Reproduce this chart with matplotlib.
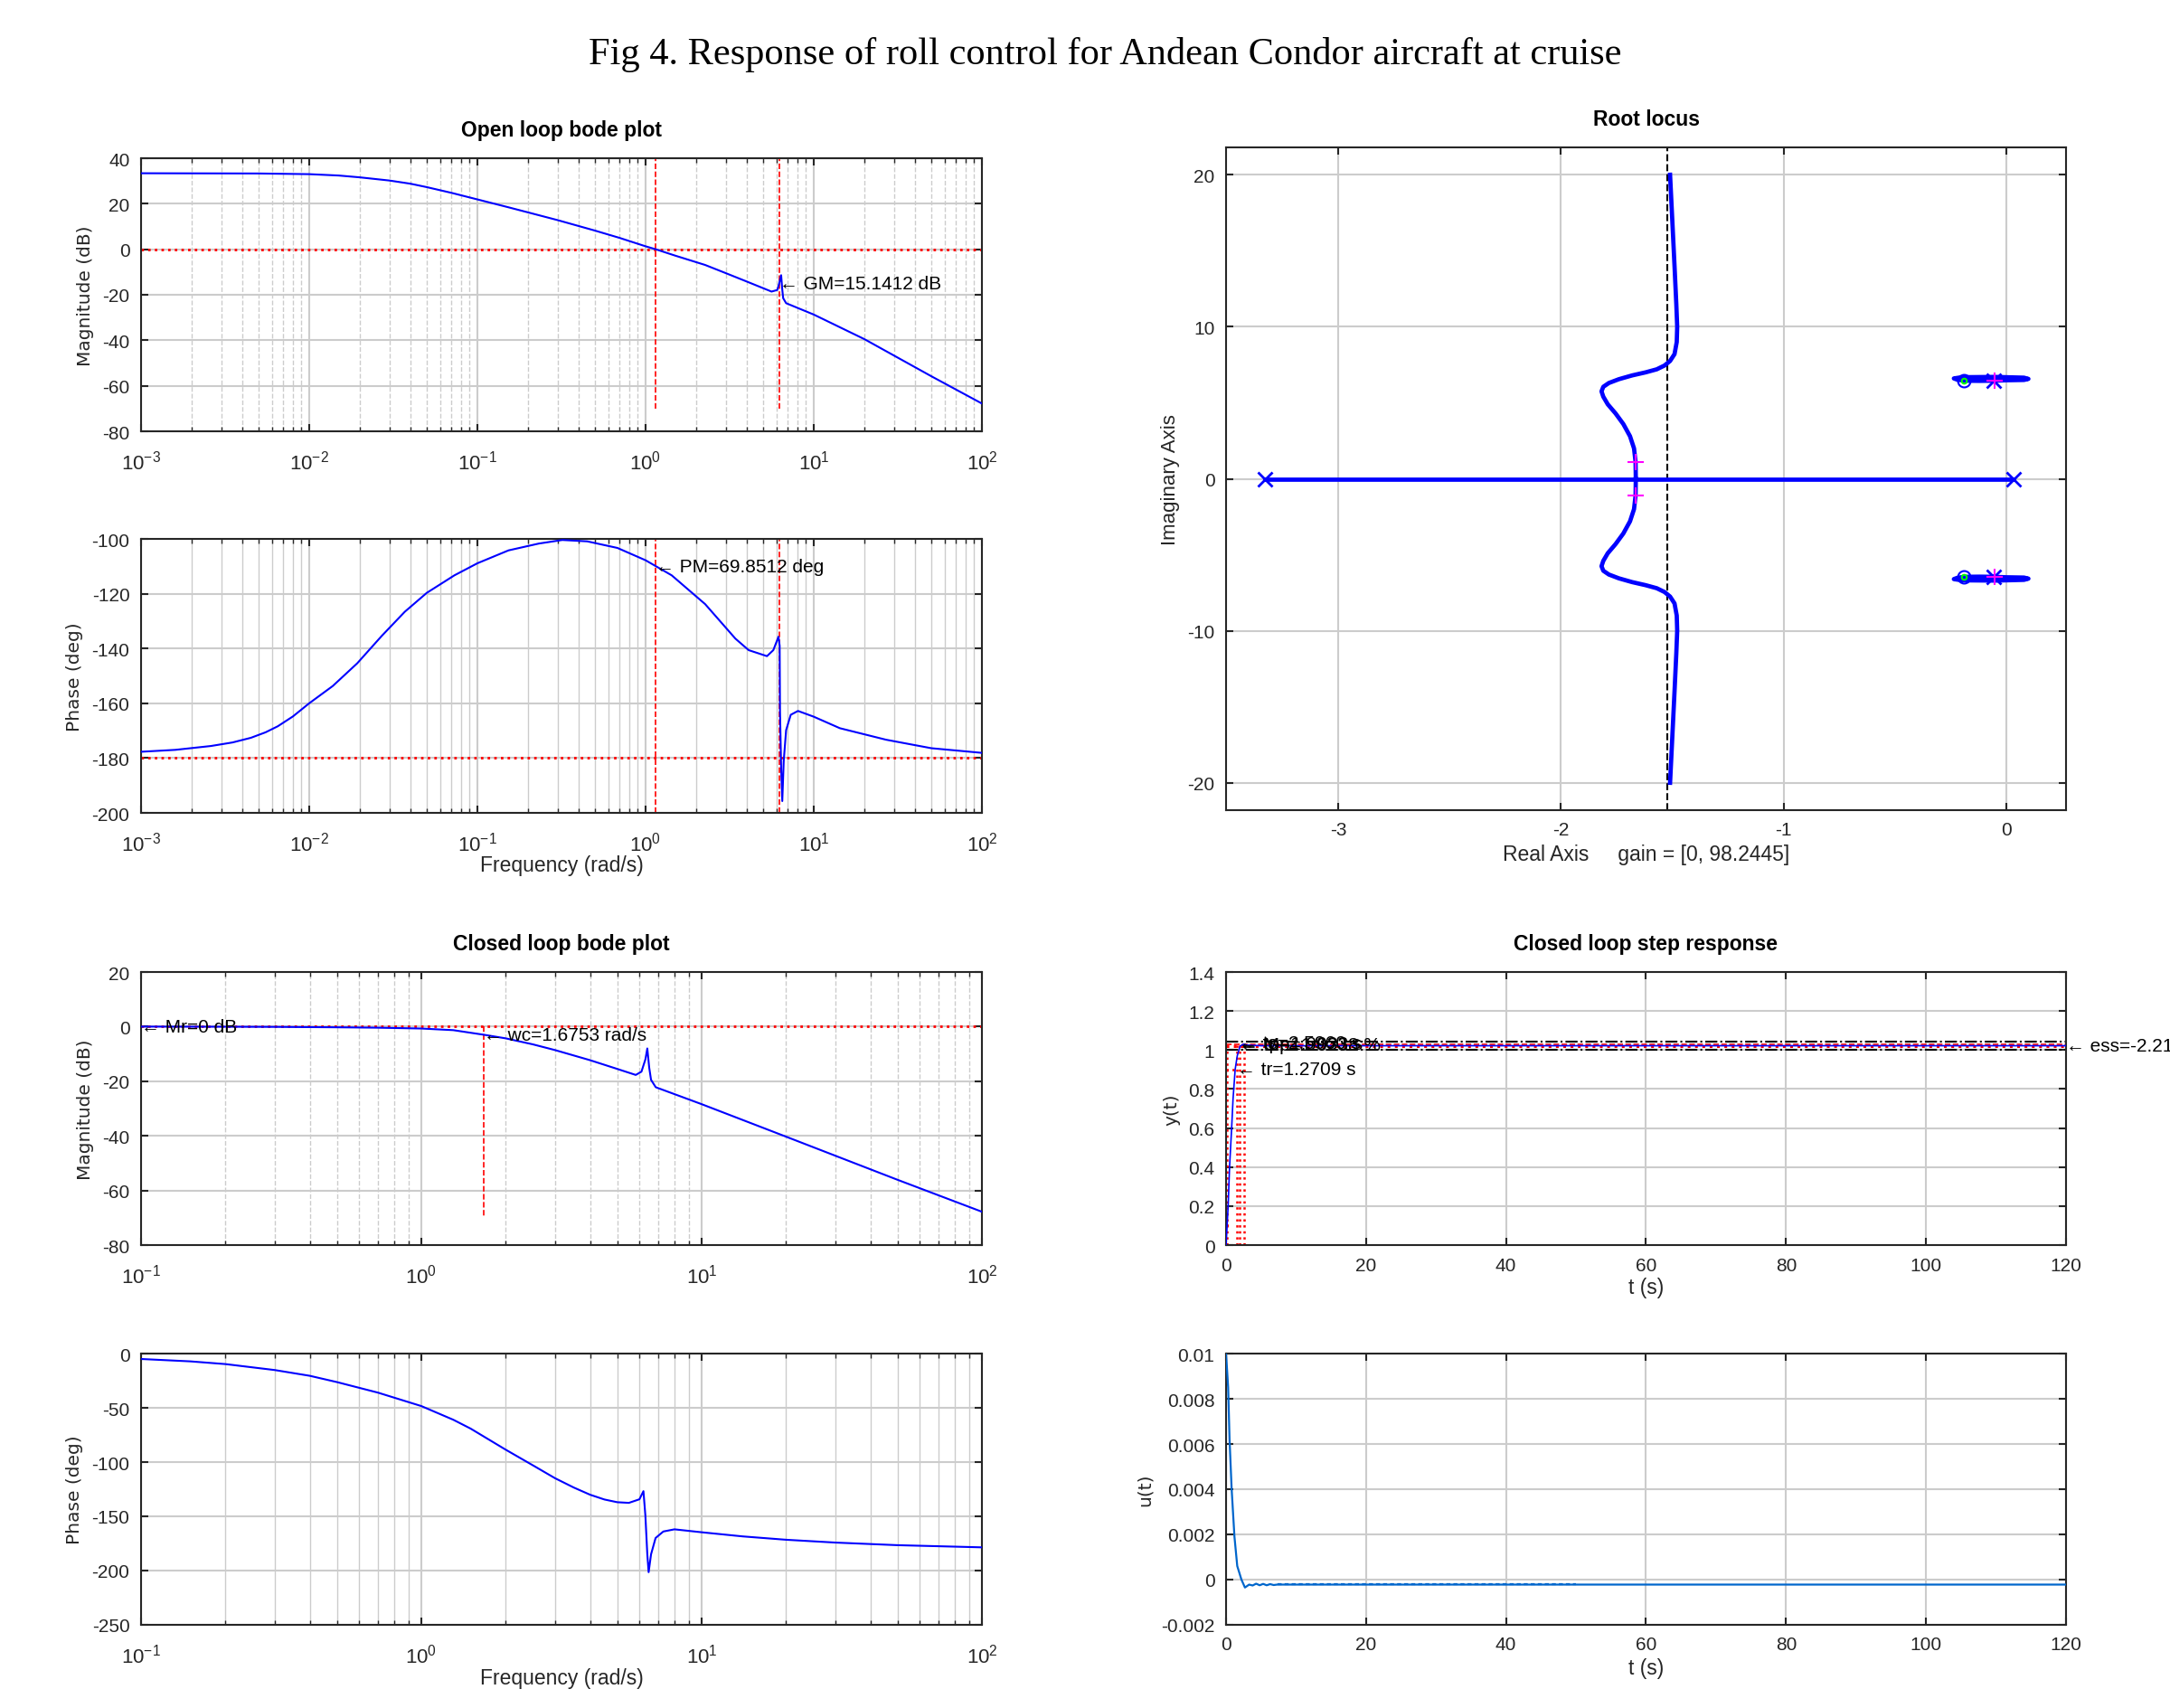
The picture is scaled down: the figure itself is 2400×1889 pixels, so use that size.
import numpy as np
import matplotlib
matplotlib.use("Agg")
import matplotlib.pyplot as plt
from matplotlib.ticker import FormatStrFormatter

plt.rcParams['font.family'] = ['Liberation Sans', 'DejaVu Sans']
plt.rcParams['axes.unicode_minus'] = False
plt.rcParams['mathtext.default'] = 'regular'

# ---- data ----
# open loop bode
w_ol_mag = [1e-3, 5e-3, 1e-2, 1.5e-2, 2e-2, 3e-2, 4e-2, 5e-2, 7e-2, 0.1, 0.15, 0.2, 0.3, 0.5, 0.7, 1.0, 1.148,
            1.5, 2.26, 3, 4, 5, 5.61, 6.07, 6.22, 6.4, 6.49, 6.58, 6.85, 10, 20, 50, 100]
ol_mag = [33.4, 33.3, 33.0, 32.4, 31.6, 30.2, 28.8, 27.3, 24.8, 21.9, 18.6, 16.2, 12.8, 8.2, 5.0, 1.3, 0.0,
          -2.8, -6.9, -10.5, -14.2, -17.1, -18.6, -17.9, -15.2, -11.4, -17.3, -21.5, -23.7, -28.7, -39.5, -55.8, -67.8]
w_ol_ph = [1e-3, 1.6e-3, 2.6e-3, 3.5e-3, 4.5e-3, 5.5e-3, 6.5e-3, 8e-3, 1e-2, 1.38e-2, 1.93e-2, 2.7e-2, 3.7e-2,
           5e-2, 7.3e-2, 0.1, 0.153, 0.232, 0.32, 0.45, 0.68, 1.0, 1.43, 2.0, 2.26, 3.42, 4.1, 5.27, 5.75, 6.17,
           6.27, 6.3, 6.4, 6.5, 6.63, 6.85, 7.3, 8.06, 10, 14.3, 26.9, 50, 100]
ol_ph = [-177.7, -177.0, -175.6, -174.3, -172.6, -170.6, -168.4, -164.8, -160.0, -153.7, -145.4, -135.4, -126.6,
         -119.7, -113.3, -108.9, -104.2, -101.7, -100.4, -100.9, -103.3, -107.8, -113.3, -121.0, -123.8, -136.4,
         -140.6, -142.8, -140.6, -135.7, -139.0, -162.9, -183.8, -195.7, -181.0, -169.8, -164.2, -162.8, -164.9,
         -169.1, -173.3, -176.4, -178.1]
wc_ol, wg_ol = 1.148, 6.22
gm_db, pm_deg = 15.1412, 69.8512

# closed loop bode
w_cl_mag = [0.1, 0.2, 0.3, 0.5, 0.7, 1.0, 1.3, 1.6753, 2, 2.5, 3, 4, 5, 5.82, 6.1, 6.3, 6.4, 6.5, 6.6, 6.86,
            10, 20, 50, 100]
cl_mag = [0, -0.05, -0.1, -0.25, -0.4, -0.7, -1.3, -3.0, -4.3, -6.5, -8.6, -12.3, -15.5, -17.7, -16.5, -12.0,
          -8.0, -15.0, -19.5, -22.2, -28.4, -40.3, -56.1, -67.8]
w_cl_ph = [0.1, 0.15, 0.2, 0.3, 0.4, 0.5, 0.7, 1.0, 1.3, 1.5, 2, 2.5, 3, 3.5, 4, 4.5, 5, 5.5, 6, 6.2, 6.3,
           6.4, 6.47, 6.6, 6.85, 7.3, 8, 10, 14, 20, 30, 50, 100]
cl_ph = [-5, -7.2, -9.7, -15.2, -20.5, -26.3, -36, -48.4, -61, -69.2, -88.6, -103, -114.9, -123.5, -130.1,
         -134.5, -137, -137.6, -134.3, -126.8, -149.5, -185, -201.5, -185, -170, -164, -162, -164.7, -168.5,
         -171.6, -174.2, -176.6, -178.6]
wc_cl = 1.6753

# root locus (upper half, mirrored for lower)
rl_re = [-1.664, -1.665, -1.672, -1.69, -1.72, -1.755, -1.79, -1.81, -1.818, -1.81, -1.785, -1.74, -1.68,
         -1.62, -1.57, -1.535, -1.51, -1.49, -1.48, -1.478, -1.482, -1.49, -1.50, -1.51]
rl_im = [0.0, 1.1, 2.0, 2.8, 3.6, 4.3, 4.9, 5.4, 5.75, 6.05, 6.3, 6.55, 6.8, 7.0, 7.2, 7.45, 7.75, 8.2, 9.0,
         10.0, 11.5, 14.0, 17.0, 20.0]
loop_re = [-0.054, 0.0, 0.08, 0.1, 0.08, -0.05, -0.2, -0.235, -0.22, -0.19, -0.12, -0.054]
loop_im = [6.45, 6.48, 6.5, 6.57, 6.65, 6.7, 6.68, 6.6, 6.52, 6.45, 6.44, 6.45]
real_branch = [-3.331, 0.033]
poles_re = [-3.331, 0.033, -0.054, -0.054]
poles_im = [0, 0, 6.45, -6.45]
zeros_re = [-0.19, -0.19]
zeros_im = [6.45, -6.45]
cl_poles_re = [-1.665, -1.665, -0.05, -0.05]
cl_poles_im = [1.1, -1.1, 6.48, -6.48]
asymptote = -1.521

# step response
t_step = [0, 0.3, 0.5, 0.8, 1.0, 1.3, 1.6, 2.0, 2.5, 3.0, 5.0, 120]
y_step = [0, 0.2, 0.4, 0.6, 0.75, 0.9, 0.97, 1.02, 1.03, 1.025, 1.022, 1.022]
y_ss, y_peak = 1.022, 1.03
ts_band = [1.0016, 1.0425]
t_marks = [0.17, 1.6, 1.94, 2.6]

# control signal
t_u = [0, 0.3, 0.5, 0.8, 1.2, 1.6, 2.2, 2.7, 3.3, 3.8, 4.3, 4.8, 5.3, 5.8, 6.3, 6.8, 7.3, 120]
u_sig = [0.01, 0.0085, 0.0062, 0.004, 0.0019, 0.0006, 0.0, -0.00035, -0.00022, -0.00026, -0.00018, -0.00025,
         -0.00019, -0.00025, -0.0002, -0.00024, -0.00022, -0.00022]
t_ripple = [7.3, 50]
u_ripple = [-0.00019, -0.00019]

W, H = 2400, 1890
fig = plt.figure(figsize=(W / 100, H / 100), dpi=100)

def rect(l, t, r, b):
    return [l / W, 1 - b / H, (r - l) / W, (b - t) / H]

TICK = 15
LAB = 16.5
BLUE = '#0000ff'
RED = '#ff0000'
GRID = '#cccccc'

def style(ax, minor_dashed=None, logx=False):
    for s in ax.spines.values():
        s.set_color('#262626')
        s.set_linewidth(1.5)
    ax.tick_params(which='both', direction='in', top=True, right=True,
                   colors='#262626', labelsize=TICK, pad=9)
    ax.tick_params(which='major', length=6, width=1.5)
    ax.tick_params(which='minor', length=3.5, width=1.0)
    if logx:
        ax.tick_params(axis='x', which='both', pad=15)
        for lbl in ax.get_xticklabels():
            lbl.set_fontsize(16)
    ax.set_axisbelow(True)
    ax.grid(True, which='major', color=GRID, lw=1.5, ls='-')
    if minor_dashed is not None:
        ax.grid(True, which='minor', axis='x', color=GRID, lw=1.0,
                ls='--' if minor_dashed else '-')

def ylab(ax, text, x, family='DejaVu Sans', size=14.5):
    ax.set_ylabel(text, family=family, fontsize=size, color='#262626', va='center')
    ax.yaxis.set_label_coords(x, 0.5)

def xlab(ax, text, gap_px, height_px):
    ax.set_xlabel(text, fontsize=LAB, color='#262626', va='center')
    ax.xaxis.set_label_coords(0.5, -gap_px / height_px)

def ann(ax, x, y, s, **kw):
    ax.text(x, y, '\u2190 ' + s, fontsize=TICK, va='center', ha='left',
            family=['DejaVu Sans'] if False else ['Liberation Sans', 'DejaVu Sans'], **kw)

fig.text(1222 / W, 1 - 60 / H,
         'Fig 4. Response of roll control for Andean Condor aircraft at cruise',
         family='Liberation Serif', fontsize=30.5, ha='center', va='center')

# open loop magnitude
ax1 = fig.add_axes(rect(156, 176, 1086, 478))
ax1.semilogx(w_ol_mag, ol_mag, color=BLUE, lw=1.5, zorder=3)
ax1.axhline(0, color=RED, ls=':', lw=2)
ax1.plot([wc_ol, wc_ol], [-70, 40], color=RED, ls='--', lw=1.2)
ax1.plot([wg_ol, wg_ol], [-70, 40], color=RED, ls='--', lw=1.2)
ann(ax1, wg_ol, -gm_db, 'GM=%.4f dB' % gm_db, clip_on=False)
ax1.set_xlim(1e-3, 1e2)
ax1.set_ylim(-80, 40)
ax1.set_yticks(np.arange(-80, 41, 20))
style(ax1, minor_dashed=True, logx=True)
ax1.set_title('Open loop bode plot', fontsize=LAB, fontweight='bold', pad=18)
ylab(ax1, 'Magnitude (dB)', -0.0656)

# open loop phase
ax2 = fig.add_axes(rect(156, 597, 1086, 900))
ax2.semilogx(w_ol_ph, ol_ph, color=BLUE, lw=1.5, zorder=3)
ax2.axhline(-180, color=RED, ls=':', lw=2)
ax2.axvline(wc_ol, color=RED, ls='--', lw=1.2)
ax2.axvline(wg_ol, color=RED, ls='--', lw=1.2)
ann(ax2, wc_ol, -180 + pm_deg, 'PM=%.4f deg' % pm_deg)
ax2.set_xlim(1e-3, 1e2)
ax2.set_ylim(-200, -100)
ax2.set_yticks(np.arange(-200, -99, 20))
style(ax2, minor_dashed=False, logx=True)
ylab(ax2, 'Phase (deg)', -0.0785)
xlab(ax2, 'Frequency (rad/s)', 58, 303)

# closed loop magnitude
ax3 = fig.add_axes(rect(156, 1076, 1086, 1378))
ax3.semilogx(w_cl_mag, cl_mag, color=BLUE, lw=1.5, zorder=3)
ax3.axhline(0, color=RED, ls=':', lw=2)
ax3.plot([0.1, 0.1], [0, -70], color=RED, ls='--', lw=1.2)
ax3.plot([wc_cl, wc_cl], [0, -70], color=RED, ls='--', lw=1.2)
ann(ax3, 0.1, 0, 'Mr=0 dB')
ann(ax3, wc_cl, -3, 'wc=%.4f rad/s' % wc_cl)
ax3.set_xlim(1e-1, 1e2)
ax3.set_ylim(-80, 20)
ax3.set_yticks(np.arange(-80, 21, 20))
style(ax3, minor_dashed=True, logx=True)
ax3.set_title('Closed loop bode plot', fontsize=LAB, fontweight='bold', pad=18)
ylab(ax3, 'Magnitude (dB)', -0.0656)

# closed loop phase
ax4 = fig.add_axes(rect(156, 1498, 1086, 1798))
ax4.semilogx(w_cl_ph, cl_ph, color=BLUE, lw=1.5, zorder=3)
ax4.set_xlim(1e-1, 1e2)
ax4.set_ylim(-250, 0)
ax4.set_yticks(np.arange(-250, 1, 50))
style(ax4, minor_dashed=False, logx=True)
ylab(ax4, 'Phase (deg)', -0.0785)
xlab(ax4, 'Frequency (rad/s)', 59, 300)

# root locus
ax5 = fig.add_axes(rect(1356, 164, 2285, 897))
ax5.axvline(asymptote, color='k', ls='--', lw=1.5, zorder=2)
ax5.plot(real_branch, [0, 0], color=BLUE, lw=3.4, zorder=3)
ax5.plot(rl_re, rl_im, color=BLUE, lw=3.4, zorder=3, solid_joinstyle='round')
ax5.plot(rl_re, np.negative(rl_im), color=BLUE, lw=3.4, zorder=3, solid_joinstyle='round')
ax5.plot(loop_re, loop_im, color=BLUE, lw=3.4, zorder=3)
ax5.plot(loop_re, np.negative(loop_im), color=BLUE, lw=3.4, zorder=3)
ax5.plot(poles_re, poles_im, 'x', color=BLUE, ms=11, mew=2, zorder=4)
ax5.plot(zeros_re, zeros_im, 'o', mfc='none', mec=BLUE, ms=10, mew=1.5, zorder=4)
ax5.plot(zeros_re, zeros_im, 'o', mfc='none', mec='#00ff00', ms=4, mew=1.5, zorder=5)
ax5.plot(cl_poles_re, cl_poles_im, '+', color='#ff00ff', ms=13, mew=1.5, zorder=5)
ax5.set_xlim(-3.505, 0.269)
ax5.set_ylim(-21.8, 21.8)
ax5.set_xticks([-3, -2, -1, 0])
ax5.set_yticks([-20, -10, 0, 10, 20])
style(ax5)
ax5.set_title('Root locus', fontsize=LAB, fontweight='bold', pad=18)
ylab(ax5, 'Imaginary Axis', -0.0657, family='Liberation Sans', size=16)
ax5.set_xlabel('Real Axis     gain = [0, 98.2445]', fontsize=LAB, color='#262626', va='center')
ax5.xaxis.set_label_coords(0.5, -49 / 733)

# step response
ax6 = fig.add_axes(rect(1356, 1076, 2285, 1378))
for lvl in ts_band:
    ax6.axhline(lvl, color='k', ls='-.', lw=1.5, zorder=2)
ax6.axhline(y_ss, color=RED, ls=':', lw=2.2, zorder=2)
ax6.axhline(y_peak, color=RED, ls='--', lw=1.2, zorder=2)
for tm in t_marks:
    ax6.plot([tm, tm], [0, y_peak], color=RED, ls=':', lw=1.8, zorder=2)
ax6.plot([0, t_marks[0] + 0.6], [0.1, 0.1], color=RED, ls=':', lw=1.8)
ax6.plot([0, t_marks[1]], [0.9, 0.9], color=RED, ls=':', lw=1.8)
ax6.plot(t_step, y_step, color=BLUE, lw=1.2, zorder=3)
ann(ax6, 1.6, 0.9, 'tr=1.2709 s')
ann(ax6, 1.8, 1.035, 'ts=2.5960 s')
ann(ax6, 1.9, 1.03, 'tp=1.9933 s')
ann(ax6, 2.0, 1.025, 'Mp=1.0238 %')
ann(ax6, 120, y_ss, 'ess=-2.2145 %', clip_on=False)
ax6.set_xlim(0, 120)
ax6.set_ylim(0, 1.4)
ax6.set_yticks(np.arange(0, 1.41, 0.2))
ax6.yaxis.set_major_formatter(FormatStrFormatter('%g'))
style(ax6)
ax6.set_title('Closed loop step response', fontsize=LAB, fontweight='bold', pad=18)
ylab(ax6, 'y(t)', -0.0646)
xlab(ax6, 't (s)', 47, 302)

# control signal
ax7 = fig.add_axes(rect(1356, 1498, 2285, 1798))
ax7.plot(t_u, u_sig, color='#0066cc', lw=1.6, zorder=3)
ax7.plot(t_ripple, u_ripple, color='#0066cc', lw=1.6, ls=(0, (2, 1.5)), zorder=3)
ax7.set_xlim(0, 120)
ax7.set_ylim(-0.002, 0.01)
ax7.set_yticks(np.arange(-0.002, 0.0101, 0.002))
ax7.yaxis.set_major_formatter(FormatStrFormatter('%g'))
style(ax7)
ylab(ax7, 'u(t)', -0.097)
xlab(ax7, 't (s)', 48, 300)

fig.savefig('out.png', dpi=100)
